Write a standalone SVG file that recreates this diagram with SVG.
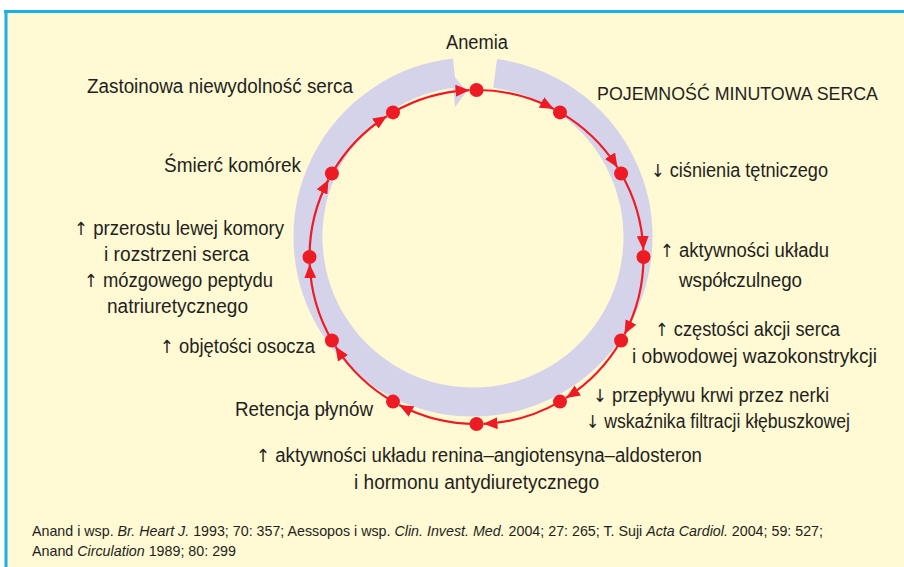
<svg xmlns="http://www.w3.org/2000/svg" width="904" height="567" viewBox="0 0 904 567">
<defs>
<style>
.lbl{font-family:"Liberation Sans",Arial,sans-serif;font-size:20px;fill:#231f20;}
.ar{font-family:"DejaVu Sans","Liberation Sans",sans-serif;font-size:18px;fill:#231f20;}
.cit{font-family:"Liberation Sans",Arial,sans-serif;font-size:15px;fill:#231f20;}
.it{font-style:italic;}
.arc{fill:none;stroke:#ed1c24;stroke-width:2.2;marker-end:url(#ah);}
.dot{fill:#ed1c24;}
</style>
<marker id="ah" viewBox="0 0 14 12" refX="14" refY="6" markerWidth="14" markerHeight="12" markerUnits="userSpaceOnUse" orient="auto">
<path d="M0,0 L14,6 L0,12 Z" fill="#ed1c24"/>
</marker>
</defs>
<rect x="0" y="0" width="904" height="567" fill="#ffffff"/>
<rect x="7" y="11" width="897" height="556" fill="#fff9d4"/>
<line x1="4" y1="11.5" x2="904" y2="11.5" stroke="#1bb0e6" stroke-width="3"/>
<line x1="6" y1="10" x2="6" y2="567" stroke="#1bb0e6" stroke-width="3"/>

<g id="band">
<path d="M495.11,73.49 A165,165 0 1 1 454.6,73.03" fill="none" stroke="#d5d3ea" stroke-width="29"/>
<polygon points="452,74 467,91 455,107" fill="#d5d3ea"/>
</g>

<g id="connectors">
<path class="arc" d="M476.5,90 A167,167 0 0 1 553.87,109.0"/>
<path class="arc" d="M560,112.4 A167,167 0 0 1 617.5,167.52"/>
<path class="arc" d="M621.1,173.5 A167,167 0 0 1 643.35,250.0"/>
<path class="arc" d="M643.5,257 A167,167 0 0 1 624.5,334.37"/>
<path class="arc" d="M621.1,340.5 A167,167 0 0 1 565.98,398.0"/>
<path class="arc" d="M560,401.6 A167,167 0 0 1 483.49,423.85"/>
<path class="arc" d="M476.5,424 A167,167 0 0 1 399.13,405.0"/>
<path class="arc" d="M393,401.6 A167,167 0 0 1 335.5,346.48"/>
<path class="arc" d="M331.9,340.5 A167,167 0 0 1 309.65,264.0"/>
<path class="arc" d="M309.5,257 A167,167 0 0 1 328.5,179.63"/>
<path class="arc" d="M331.9,173.5 A167,167 0 0 1 387.02,116.0"/>
<path class="arc" d="M393,112.4 A167,167 0 0 1 469.51,90.15"/>
</g>

<g id="n-anemia"><circle class="dot" cx="476.5" cy="90" r="7"/><text class="lbl" x="446" y="49" textLength="62" lengthAdjust="spacingAndGlyphs">Anemia</text></g>
<g id="n-pojemnosc"><circle class="dot" cx="560" cy="112.4" r="7"/><text class="lbl" x="597" y="100" font-size="19" style="font-size:19px" textLength="281" lengthAdjust="spacingAndGlyphs">POJEMNOŚĆ MINUTOWA SERCA</text></g>
<g id="n-cisnienie"><circle class="dot" cx="621.1" cy="173.5" r="7"/><text class="lbl" x="651" y="177" textLength="177" lengthAdjust="spacingAndGlyphs"><tspan class="ar">↓</tspan> ciśnienia tętniczego</text></g>
<g id="n-wspolczulny"><circle class="dot" cx="643.5" cy="257" r="7"/><text class="lbl" x="660" y="257" textLength="169" lengthAdjust="spacingAndGlyphs"><tspan class="ar">↑</tspan> aktywności układu</text><text class="lbl" x="679" y="287" textLength="123" lengthAdjust="spacingAndGlyphs">współczulnego</text></g>
<g id="n-czestosc"><circle class="dot" cx="621.1" cy="340.5" r="7"/><text class="lbl" x="655" y="336" textLength="185" lengthAdjust="spacingAndGlyphs"><tspan class="ar">↑</tspan> częstości akcji serca</text><text class="lbl" x="632" y="363" textLength="245" lengthAdjust="spacingAndGlyphs">i obwodowej wazokonstrykcji</text></g>
<g id="n-nerki"><circle class="dot" cx="560" cy="401.6" r="7"/><text class="lbl" x="593" y="402" textLength="236" lengthAdjust="spacingAndGlyphs"><tspan class="ar">↓</tspan> przepływu krwi przez nerki</text><text class="lbl" x="586" y="428" textLength="264" lengthAdjust="spacingAndGlyphs"><tspan class="ar">↓</tspan> wskaźnika filtracji kłębuszkowej</text></g>
<g id="n-raa"><circle class="dot" cx="476.5" cy="424" r="7"/><text class="lbl" x="256" y="462" textLength="446" lengthAdjust="spacingAndGlyphs"><tspan class="ar">↑</tspan> aktywności układu renina–angiotensyna–aldosteron</text><text class="lbl" x="354" y="489" textLength="245" lengthAdjust="spacingAndGlyphs">i hormonu antydiuretycznego</text></g>
<g id="n-retencja"><circle class="dot" cx="393" cy="401.6" r="7"/><text class="lbl" x="235" y="416" textLength="138" lengthAdjust="spacingAndGlyphs">Retencja płynów</text></g>
<g id="n-osocze"><circle class="dot" cx="331.9" cy="340.5" r="7"/><text class="lbl" x="160" y="353" textLength="155" lengthAdjust="spacingAndGlyphs"><tspan class="ar">↑</tspan> objętości osocza</text></g>
<g id="n-przerost"><circle class="dot" cx="309.5" cy="257" r="7"/><text class="lbl" x="74" y="235" textLength="210" lengthAdjust="spacingAndGlyphs"><tspan class="ar">↑</tspan> przerostu lewej komory</text><text class="lbl" x="104" y="261" textLength="145" lengthAdjust="spacingAndGlyphs">i rozstrzeni serca</text><text class="lbl" x="84" y="287" textLength="189" lengthAdjust="spacingAndGlyphs"><tspan class="ar">↑</tspan> mózgowego peptydu</text><text class="lbl" x="107" y="313" textLength="141" lengthAdjust="spacingAndGlyphs">natriuretycznego</text></g>
<g id="n-smierc"><circle class="dot" cx="331.9" cy="173.5" r="7"/><text class="lbl" x="164" y="172" textLength="137" lengthAdjust="spacingAndGlyphs">Śmierć komórek</text></g>
<g id="n-zastoinowa"><circle class="dot" cx="393" cy="112.4" r="7"/><text class="lbl" x="87" y="93" textLength="266" lengthAdjust="spacingAndGlyphs">Zastoinowa niewydolność serca</text></g>

<g id="citation">
<text class="cit" x="32" y="536" textLength="791" lengthAdjust="spacingAndGlyphs">Anand i wsp. <tspan class="it">Br. Heart J.</tspan> 1993; 70: 357; Aessopos i wsp. <tspan class="it">Clin. Invest. Med.</tspan> 2004; 27: 265; T. Suji <tspan class="it">Acta Cardiol.</tspan> 2004; 59: 527;</text>
<text class="cit" x="32" y="556" textLength="204" lengthAdjust="spacingAndGlyphs">Anand <tspan class="it">Circulation</tspan> 1989; 80: 299</text>
</g>
</svg>
